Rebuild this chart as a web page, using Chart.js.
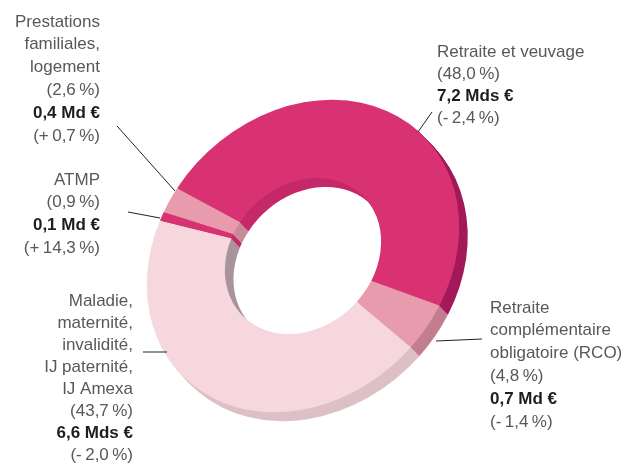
<!DOCTYPE html>
<html>
<head>
<meta charset="utf-8">
<script src="https://cdn.jsdelivr.net/npm/chart.js@4"></script>
<style>
  html, body { margin: 0; padding: 0; background: #fff; }
  #wrap { width: 632px; height: 466px; }
</style>
</head>
<body>
<div id="wrap"><canvas id="donut" width="632" height="466"></canvas></div>
<script>
// Data
const categories = [
    ['Retraite et veuvage'],
    ['Retraite', 'complémentaire', 'obligatoire (RCO)'],
    ['Maladie,', 'maternité,', 'invalidité,', 'IJ paternité,', 'IJ Amexa'],
    ['ATMP'],
    ['Prestations', 'familiales,', 'logement']
];
const shares = [48.0, 4.8, 43.7, 0.9, 2.6];
const amounts = ['7,2 Mds €', '0,7 Md €', '6,6 Mds €', '0,1 Md €', '0,4 Md €'];
const changes = [-2.4, -1.4, -2.0, 14.3, 0.7];

// Colours: top face, outer wall, wall inside the hole
const faceColors = ['#D93273', '#E99BAE', '#F5D7DD', '#D93273', '#E99BAE'];
const outerWall = ['#A3195A', '#C27E8E', '#DCC0C6', '#A3195A', '#C27E8E'];
const innerWall = ['#C4296A', '#B98895', '#A8949A', '#C4296A', '#C98A9A'];

// Label placement (layout only)
const labelPos = [
    { x: 437, y: 52, lh: 22.0, align: 'left' },
    { x: 490, y: 308, lh: 22.8, align: 'left' },
    { x: 133, y: 301, lh: 22.1, align: 'right' },
    { x: 100, y: 180, lh: 22.7, align: 'right' },
    { x: 100, y: 22, lh: 22.8, align: 'right' }
];
const leaders = [
    [418, 132, 432, 112],
    [436, 341, 482, 339],
    [143, 352, 167, 352],
    [128, 212, 160, 218],
    [117, 126, 175, 191]
];

const TILT = 0.83;       // squash along the NW-SE direction
const DEPTH = 9;         // extrusion, px

const fmt = v => Math.abs(v).toFixed(1).replace('.', ',');

function tilt(ctx, cx, cy) {
    ctx.translate(cx, cy);
    ctx.rotate(-Math.PI / 4);
    ctx.scale(1, TILT);
    ctx.rotate(Math.PI / 4);
    ctx.translate(-cx, -cy);
}

const tiltPlugin = {
    id: 'tilt3d',
    beforeDatasetsDraw(chart) {
        const ctx = chart.ctx;
        const arcs = chart.getDatasetMeta(0).data;
        const cx = arcs[0].x, cy = arcs[0].y;

        // extruded side, drawn from the back forward
        for (let i = DEPTH; i >= 1; i--) {
            ctx.save();
            ctx.translate(i * 0.95, i);
            tilt(ctx, cx, cy);
            arcs.forEach((a, k) => {
                const mid = (a.innerRadius + a.outerRadius) / 2;
                ctx.fillStyle = outerWall[k];
                ctx.beginPath();
                ctx.arc(a.x, a.y, a.outerRadius, a.startAngle, a.endAngle);
                ctx.arc(a.x, a.y, mid, a.endAngle, a.startAngle, true);
                ctx.closePath();
                ctx.fill();
                ctx.fillStyle = innerWall[k];
                ctx.beginPath();
                ctx.arc(a.x, a.y, mid, a.startAngle, a.endAngle);
                ctx.arc(a.x, a.y, a.innerRadius, a.endAngle, a.startAngle, true);
                ctx.closePath();
                ctx.fill();
            });
            ctx.restore();
        }

        ctx.save();
        tilt(ctx, cx, cy);
    },
    afterDatasetsDraw(chart) {
        chart.ctx.restore();
    },
    afterDraw(chart) {
        const ctx = chart.ctx;
        ctx.save();
        ctx.strokeStyle = '#222';
        ctx.lineWidth = 1;
        leaders.forEach(l => {
            ctx.beginPath();
            ctx.moveTo(l[0], l[1]);
            ctx.lineTo(l[2], l[3]);
            ctx.stroke();
        });

        ctx.textBaseline = 'middle';
        categories.forEach((lines, i) => {
            const p = labelPos[i];
            ctx.textAlign = p.align;
            const rows = [];
            lines.forEach(t => rows.push({ t, bold: false }));
            rows.push({ t: '(' + fmt(shares[i]) + '\u202f%)', bold: false });
            rows.push({ t: amounts[i], bold: true });
            rows.push({ t: '(' + (changes[i] < 0 ? '-\u202f' : '+\u202f') + fmt(changes[i]) + '\u202f%)', bold: false });
            rows.forEach((r, j) => {
                ctx.font = r.bold ? 'bold 17px "Liberation Sans", Arial, sans-serif'
                                  : '17px "Liberation Sans", Arial, sans-serif';
                ctx.fillStyle = r.bold ? '#1e1e1e' : '#585858';
                ctx.fillText(r.t, p.x, p.y + j * p.lh);
            });
        });
        ctx.restore();
    }
};

new Chart(document.getElementById('donut').getContext('2d'), {
    type: 'doughnut',
    data: {
        labels: categories,
        datasets: [{
            data: shares,
            backgroundColor: faceColors,
            borderWidth: 0
        }]
    },
    options: {
        responsive: false,
        animation: false,
        cutout: '50%',
        rotation: -59,
        layout: { padding: { top: 86, bottom: 40, left: 133, right: 159 } },
        plugins: {
            legend: { display: false },
            tooltip: { enabled: false }
        }
    },
    plugins: [tiltPlugin]
});
</script>
</body>
</html>
